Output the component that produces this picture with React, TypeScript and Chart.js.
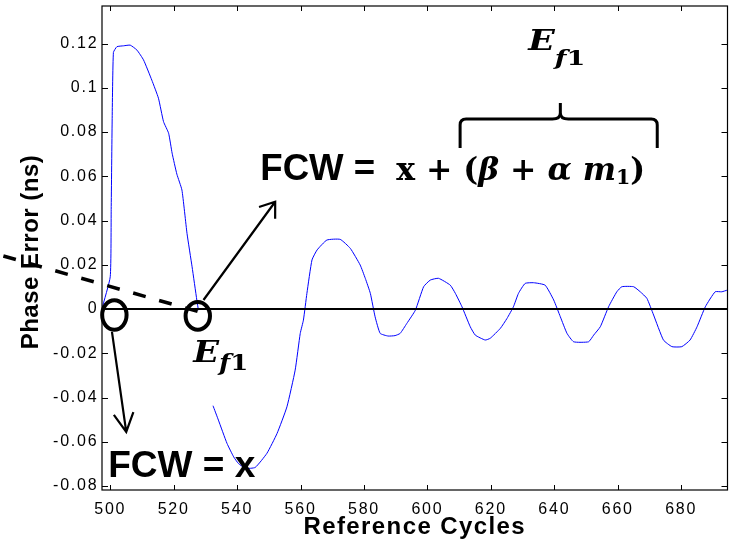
import React, { useEffect, useRef } from 'react';
import { Chart, registerables } from 'chart.js';

Chart.register(...registerables);

// ---- data ----
const cycles = [
  497.4, 500.0, 500.3, 500.6, 501.0, 502.1, 504.2, 506.3, 508.4, 510.5, 513.1, 515.2, 516.8,
  518.4, 519.5, 521.0, 522.6, 524.2, 525.8, 527.3, 527.8, 530.0,
  532.4, 534.1, 536.8, 538.9, 540.4, 542.6, 545.7, 549.4, 552.6, 555.7, 558.3, 559.9, 560.9, 562.0,
  563.6, 565.2, 568.3, 572.5, 575.7, 578.8, 580.4, 582.0, 583.5, 585.1, 587.6, 589.8, 591.4, 593.5,
  596.2, 598.8, 600.9, 603.5, 607.2, 608.8, 610.9, 613.5, 615.1, 618.2, 619.8, 623.0, 625.1, 627.1,
  628.7, 630.8, 633.5, 637.1, 639.8, 641.9, 644.0, 646.1, 650.8, 652.4, 654.5, 657.1, 659.7, 661.3,
  665.0, 667.1, 669.2, 671.3, 674.4, 677.1, 680.2, 682.8, 685.0, 687.6, 690.7, 692.8, 694.6,
];
const phaseError = [
  0.0003, 0.0146, 0.045, 0.085, 0.116, 0.1186, 0.119, 0.1193, 0.1171, 0.1126, 0.1035, 0.0953, 0.0847,
  0.0795, 0.0705, 0.061, 0.0538, 0.0342, 0.0191, 0.004, -0.0005, null,
  -0.0437, -0.0502, -0.0607, -0.0668, -0.0698, -0.072, -0.0716, -0.0652, -0.0562, -0.0442, -0.0276, -0.011, -0.005, 0.0071,
  0.0222, 0.0267, 0.0312, 0.0315, 0.0274, 0.0199, 0.0139, 0.0071, -0.0035, -0.011, -0.0122, -0.012, -0.011, -0.0065,
  -0.0005, 0.0101, 0.0131, 0.0139, 0.0108, 0.0071, 0.001, -0.008, -0.0118, -0.014, -0.0132, -0.0087, -0.0042, 0.001,
  0.0071, 0.0116, 0.0119, 0.0108, 0.0041, -0.0035, -0.011, -0.0148, -0.0148, -0.0118, -0.008, 0.001, 0.0078, 0.0101,
  0.0101, 0.0078, 0.0048, -0.0027, -0.014, -0.017, -0.017, -0.014, -0.008, 0.001, 0.0078, 0.0078, 0.0086,
];
const xTicks = [500, 520, 540, 560, 580, 600, 620, 640, 660, 680];
const yTicks = [-0.08, -0.06, -0.04, -0.02, 0, 0.02, 0.04, 0.06, 0.08, 0.1, 0.12];
const yTickLabels = ['-0.08', '-0.06', '-0.04', '-0.02', '0', '0.02', '0.04', '0.06', '0.08', '0.1', '0.12'];
const xRange = [497.4, 694.6];
const yRange = [-0.0818, 0.137];
const zeroLevel = [0, 0];
const xTitle = 'Reference Cycles';
const yTitle = 'Phase Error (ns)';

// ---- annotation anchors (data units) ----
const dashedFrom = [466.3, 0.024];
const dashedTo = [529.3, -0.0018];
const ovalCenters = [[501.3, -0.0027], [527.6, -0.0031]];
const arrowDown = [[500.54, -0.0103], [505.04, -0.0555]];
const arrowUp = [[529.4, 0.0041], [552.0, 0.0485]];
const fcwXAnchor = [499.37, -0.07595];
const fcwTopAnchor = [547.29, 0.05832];
const mathAnchor = [590.16, 0.05832];
const efTopAnchor = [631.78, 0.11709];
const efLowAnchor = [526.17, -0.02396];
const braceX = [610.3, 641.9, 672.45];
const braceY = [0.0728, 0.0859, 0.0931];

const SANS = '"Liberation Sans", Arial, sans-serif';
const SERIF = '"DejaVu Serif", "Liberation Serif", serif';

type Piece = { t: string; f: string; dy?: number };

function drawRich(ctx: CanvasRenderingContext2D, pieces: Piece[], x: number, y: number, width: number) {
  ctx.save();
  let total = 0;
  const ws = pieces.map((p) => {
    ctx.font = p.f;
    const w = ctx.measureText(p.t).width;
    total += w;
    return w;
  });
  ctx.translate(x, y);
  ctx.scale(width / total, 1);
  ctx.textBaseline = 'alphabetic';
  ctx.textAlign = 'left';
  let cx = 0;
  pieces.forEach((p, i) => {
    ctx.font = p.f;
    ctx.fillText(p.t, cx, p.dy || 0);
    cx += ws[i];
  });
  ctx.restore();
}

function arrow(ctx: CanvasRenderingContext2D, x1: number, y1: number, x2: number, y2: number, head: number, ang: number) {
  const a = Math.atan2(y2 - y1, x2 - x1);
  ctx.beginPath();
  ctx.moveTo(x1, y1);
  ctx.lineTo(x2, y2);
  ctx.moveTo(x2 - head * Math.cos(a - ang), y2 - head * Math.sin(a - ang));
  ctx.lineTo(x2, y2);
  ctx.lineTo(x2 - head * Math.cos(a + ang), y2 - head * Math.sin(a + ang));
  ctx.stroke();
}

const matlabPlugin = {
  id: 'matlabLook',
  beforeDraw(chart: any) {
    (chart.ctx as any).letterSpacing = '1.8px';
  },
  afterDraw(chart: any) {
    const ctx: CanvasRenderingContext2D = chart.ctx;
    const a = chart.chartArea;
    const xs = chart.scales.x;
    const ys = chart.scales.y;
    const X = (v: number) => xs.getPixelForValue(v);
    const Y = (v: number) => ys.getPixelForValue(v);
    ctx.save();
    (ctx as any).letterSpacing = '0px';
    ctx.fillStyle = '#000';
    ctx.strokeStyle = '#000';

    // axes box
    ctx.lineWidth = 1.2;
    ctx.strokeRect(a.left, a.top, a.right - a.left, a.bottom - a.top);
    // inward ticks
    ctx.lineWidth = 1;
    ctx.beginPath();
    xTicks.forEach((v) => {
      const p = Math.round(X(v)) + 0.5;
      ctx.moveTo(p, a.bottom); ctx.lineTo(p, a.bottom - 5);
      ctx.moveTo(p, a.top); ctx.lineTo(p, a.top + 5);
    });
    yTicks.forEach((v) => {
      const p = Math.round(Y(v)) + 0.5;
      ctx.moveTo(a.left, p); ctx.lineTo(a.left + 6, p);
      ctx.moveTo(a.right, p); ctx.lineTo(a.right - 6, p);
    });
    ctx.stroke();

    // axis titles
    ctx.font = `bold 24px ${SANS}`;
    (ctx as any).letterSpacing = '1.4px';
    ctx.textAlign = 'center';
    ctx.textBaseline = 'alphabetic';
    ctx.fillText(xTitle, (a.left + a.right) / 2, a.bottom + 44);
    (ctx as any).letterSpacing = '0.5px';
    ctx.save();
    ctx.translate(38, (a.top + a.bottom) / 2 + 4);
    ctx.rotate(-Math.PI / 2);
    ctx.fillText(yTitle, 0, 0);
    ctx.restore();
    (ctx as any).letterSpacing = '0px';

    // dashed guide line
    ctx.save();
    ctx.lineWidth = 3.5;
    ctx.setLineDash([13, 14]);
    ctx.beginPath();
    ctx.moveTo(X(dashedFrom[0]), Y(dashedFrom[1]));
    ctx.lineTo(X(dashedTo[0]), Y(dashedTo[1]));
    ctx.stroke();
    ctx.restore();

    // ovals
    ctx.lineWidth = 4;
    const radii = [[12.2, 14.7], [12.2, 13.8]];
    ovalCenters.forEach((c, i) => {
      ctx.beginPath();
      ctx.ellipse(X(c[0]), Y(c[1]), radii[i][0], radii[i][1], 0, 0, Math.PI * 2);
      ctx.stroke();
    });

    // arrows
    ctx.lineWidth = 2.2;
    arrow(ctx, X(arrowDown[0][0]), Y(arrowDown[0][1]), X(arrowDown[1][0]), Y(arrowDown[1][1]), 21, (28 * Math.PI) / 180);
    arrow(ctx, X(arrowUp[0][0]), Y(arrowUp[0][1]), X(arrowUp[1][0]), Y(arrowUp[1][1]), 17, (36 * Math.PI) / 180);

    // brace
    const L = X(braceX[0]), M = X(braceX[1]), R = X(braceX[2]);
    const yb = Y(braceY[0]), yl = Y(braceY[1]), ypk = Y(braceY[2]);
    const r = 6;
    ctx.lineWidth = 3;
    ctx.beginPath();
    ctx.moveTo(L, yb);
    ctx.lineTo(L, yl + r);
    ctx.quadraticCurveTo(L, yl, L + r, yl);
    ctx.lineTo(M - 8, yl);
    ctx.quadraticCurveTo(M, yl, M, yl - 6);
    ctx.lineTo(M, ypk);
    ctx.moveTo(M, yl - 6);
    ctx.quadraticCurveTo(M, yl, M + 8, yl);
    ctx.lineTo(R - r, yl);
    ctx.quadraticCurveTo(R, yl, R, yl + r);
    ctx.lineTo(R, yb);
    ctx.stroke();

    // texts
    drawRich(ctx, [{ t: 'FCW = x', f: `bold 36px ${SANS}` }], X(fcwXAnchor[0]), Y(fcwXAnchor[1]), 147);
    drawRich(ctx, [{ t: 'FCW =', f: `bold 36px ${SANS}` }], X(fcwTopAnchor[0]), Y(fcwTopAnchor[1]), 115);
    const B = `bold 32px ${SERIF}`;
    const BI = `italic bold 32px ${SERIF}`;
    drawRich(ctx, [
      { t: 'x', f: B },
      { t: ' + ', f: B },
      { t: '(', f: B },
      { t: 'β', f: BI },
      { t: ' + ', f: B },
      { t: 'α', f: BI },
      { t: ' ', f: B },
      { t: 'm', f: BI },
      { t: '1', f: `bold 21px ${SERIF}`, dy: 4 },
      { t: ')', f: B },
    ], X(mathAnchor[0]), Y(mathAnchor[1]), 249);
    drawRich(ctx, [
      { t: 'E', f: `italic bold 27px ${SERIF}` },
      { t: 'f', f: `italic bold 21px ${SERIF}`, dy: 15 },
      { t: '1', f: `bold 21px ${SERIF}`, dy: 15 },
    ], X(efTopAnchor[0]), Y(efTopAnchor[1]), 57);
    drawRich(ctx, [
      { t: 'E', f: `italic bold 30px ${SERIF}` },
      { t: 'f', f: `italic bold 23px ${SERIF}`, dy: 8 },
      { t: '1', f: `bold 23px ${SERIF}`, dy: 8 },
    ], X(efLowAnchor[0]), Y(efLowAnchor[1]), 55);

    ctx.restore();
  },
};

export default function App() {
  const ref = useRef<HTMLCanvasElement>(null);
  useEffect(() => {
    const canvas = ref.current;
    if (!canvas) return;
    const chart = new Chart(canvas, {
      type: 'line',
      data: {
        datasets: [
          {
            label: 'zero',
            data: xRange.map((x, i) => ({ x, y: zeroLevel[i] })),
            borderColor: '#000000',
            borderWidth: 2,
            pointRadius: 0,
          },
          {
            label: 'Phase Error',
            data: cycles.map((x, i) => ({ x, y: phaseError[i] })),
            borderColor: '#0000ff',
            borderWidth: 1,
            pointRadius: 0,
            spanGaps: false,
            tension: 0.15,
          },
        ],
      },
      options: {
        responsive: false,
        animation: false,
        devicePixelRatio: 1,
        events: [],
        layout: { padding: { top: 6, right: 1.5, left: 0, bottom: 0 } },
        plugins: { legend: { display: false }, tooltip: { enabled: false } },
        scales: {
          x: {
            type: 'linear',
            min: xRange[0],
            max: xRange[1],
            afterBuildTicks: (s: any) => { s.ticks = xTicks.map((v) => ({ value: v })); },
            afterFit: (s: any) => { s.height = 59; s.paddingLeft = 0; s.paddingRight = 0; s.paddingTop = 0; s.paddingBottom = 0; },
            grid: { display: false, drawTicks: false },
            border: { display: false },
            ticks: {
              color: '#000',
              font: { family: SANS, size: 16 },
              padding: 10,
              maxRotation: 0,
              autoSkip: false,
              callback: (v: any) => String(v),
            },
          },
          y: {
            type: 'linear',
            min: yRange[0],
            max: yRange[1],
            afterBuildTicks: (s: any) => { s.ticks = yTicks.map((v) => ({ value: v })); },
            afterFit: (s: any) => { s.width = 102; s.paddingLeft = 0; s.paddingRight = 0; s.paddingTop = 0; s.paddingBottom = 0; },
            grid: { display: false, drawTicks: false },
            border: { display: false },
            ticks: {
              color: '#000',
              font: { family: SANS, size: 16 },
              padding: 3.5,
              autoSkip: false,
              callback: (_v: any, i: number) => yTickLabels[i],
            },
          },
        },
      } as any,
      plugins: [matlabPlugin],
    });
    return () => chart.destroy();
  }, []);
  return (
    <div style={{ position: 'absolute', left: 0, top: 0, width: 729, height: 549, background: '#fff' }}>
      <canvas ref={ref} width={729} height={549} style={{ display: 'block' }} />
    </div>
  );
}
